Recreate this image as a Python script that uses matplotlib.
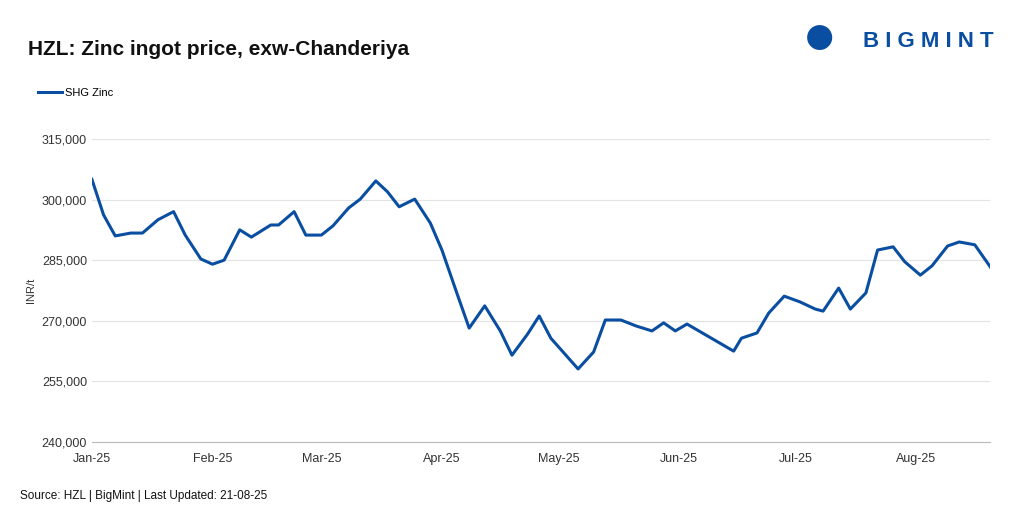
import matplotlib.pyplot as plt
import matplotlib.dates as mdates
import pandas as pd

plt.rcParams['font.family'] = ['Liberation Sans', 'DejaVu Sans']

dates = ["2025-01-01", "2025-01-04", "2025-01-07", "2025-01-11", "2025-01-14", "2025-01-18",
         "2025-01-22", "2025-01-25", "2025-01-29", "2025-02-01", "2025-02-04", "2025-02-08",
         "2025-02-11", "2025-02-16", "2025-02-18", "2025-02-22", "2025-02-25", "2025-03-01",
         "2025-03-04", "2025-03-08", "2025-03-11", "2025-03-15", "2025-03-18", "2025-03-21",
         "2025-03-25", "2025-03-29", "2025-04-01", "2025-04-05", "2025-04-08", "2025-04-12",
         "2025-04-16", "2025-04-19", "2025-04-23", "2025-04-26", "2025-04-29", "2025-05-06",
         "2025-05-10", "2025-05-13", "2025-05-17", "2025-05-21", "2025-05-25", "2025-05-28",
         "2025-05-31", "2025-06-03", "2025-06-15", "2025-06-17", "2025-06-21", "2025-06-24",
         "2025-06-28", "2025-07-02", "2025-07-06", "2025-07-08", "2025-07-12", "2025-07-15",
         "2025-07-19", "2025-07-22", "2025-07-26", "2025-07-29", "2025-08-02", "2025-08-05",
         "2025-08-09", "2025-08-12", "2025-08-16", "2025-08-20"]
shg_zinc = [305000, 296200, 291000, 291700, 291700, 295000, 297000, 291200, 285300, 284000,
            285000, 292500, 290700, 293700, 293700, 297000, 291200, 291200, 293500, 297900,
            300100, 304600, 301900, 298200, 300100, 294200, 287500, 276400, 268200, 273700,
            267500, 261500, 266700, 271200, 265700, 258100, 262300, 270200, 270200, 268700,
            267500, 269500, 267500, 269200, 262500, 265700, 267000, 271900, 276100, 274700,
            272900, 272400, 278100, 272900, 276900, 287500, 288300, 284600, 281300, 283600,
            288500, 289500, 288800, 283300]
y_ticks = [240000, 255000, 270000, 285000, 300000, 315000]

x = pd.to_datetime(dates)
blue = "#0a4ea2"

fig = plt.figure(figsize=(10.21, 5.22), dpi=100)
ax = fig.add_axes([0.090, 0.153, 0.880, 0.581])
ax.plot(x, shg_zinc, color=blue, lw=2.2, label="SHG Zinc")

ax.set_xlim(pd.Timestamp("2025-01-01"), pd.Timestamp("2025-08-20"))
ax.set_ylim(240000, 315000)
ax.set_yticks(y_ticks)
ax.yaxis.set_major_formatter(plt.FuncFormatter(lambda v, p: f"{int(v):,}"))
ax.xaxis.set_major_locator(mdates.MonthLocator())
ax.xaxis.set_major_formatter(mdates.DateFormatter("%b-%y"))
ax.grid(axis="y", color="#e3e3e3", lw=0.8)
ax.set_axisbelow(True)
for s in ["top", "right", "left"]:
    ax.spines[s].set_visible(False)
ax.spines["bottom"].set_color("#bbbbbb")
ax.tick_params(axis="both", length=0, labelsize=9, colors="#333333")
ax.tick_params(axis="x", pad=8)
ax.set_ylabel("INR/t", fontsize=8, color="#333333", labelpad=4)

fig.text(0.027, 0.895, "HZL: Zinc ingot price, exw-Chanderiya", fontsize=15, fontweight="bold", color="#111111")
fig.legend(loc="upper left", bbox_to_anchor=(0.027, 0.85), frameon=False, fontsize=8,
           handlelength=2.2, handletextpad=0.3)
fig.text(0.02, 0.045, "Source: HZL | BigMint | Last Updated: 21-08-25", fontsize=8.5, color="#111111")

# logo
fig.text(0.803, 0.925, "\u25cf", fontsize=42, color=blue, ha="center", va="center")
fig.text(0.973, 0.92, "B I G M I N T", fontsize=16, fontweight="bold", color=blue, ha="right", va="center")

fig.savefig("out.png", dpi=100)
